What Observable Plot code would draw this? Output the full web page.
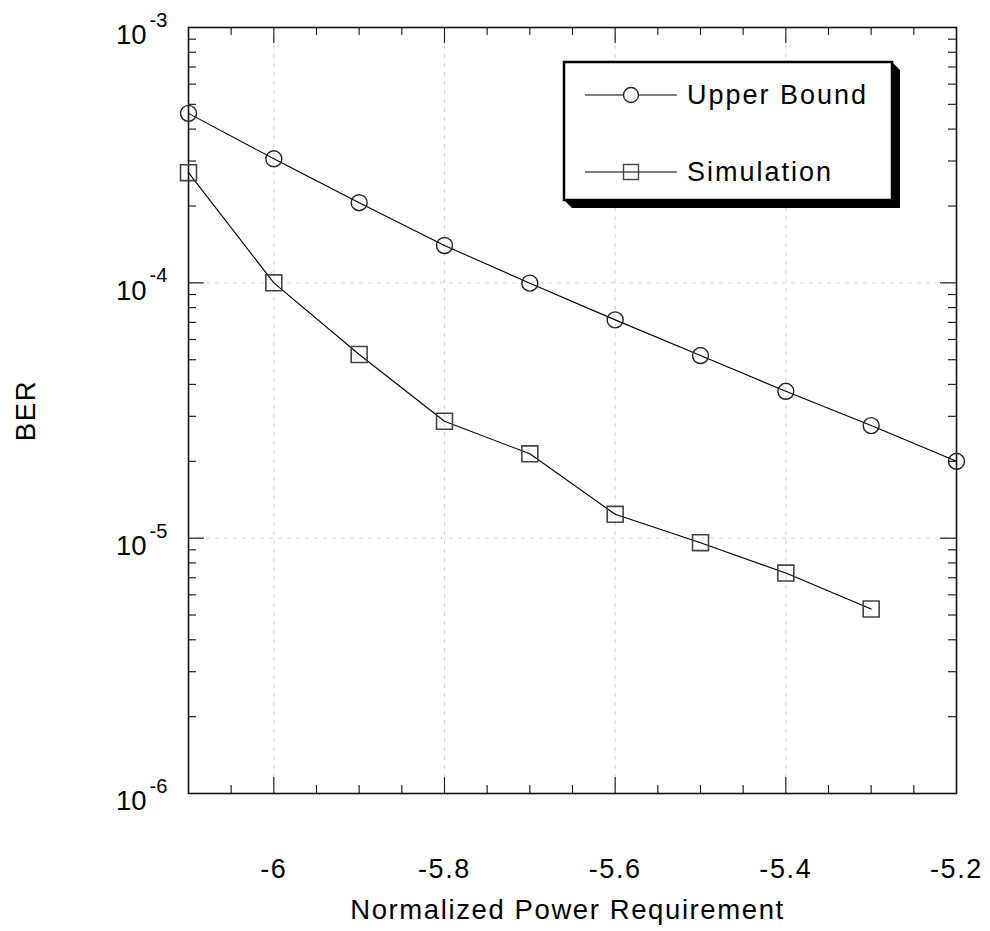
<!DOCTYPE html>
<html>
<head>
<meta charset="utf-8">
<script src="https://cdn.jsdelivr.net/npm/d3@7"></script>
<script src="https://cdn.jsdelivr.net/npm/@observablehq/plot@0.6"></script>
<style>
  html, body { margin: 0; padding: 0; background: #fff; }
  #wrap { position: relative; width: 990px; height: 931px; font-family: "Liberation Sans", Arial, sans-serif; }
  #legend { position: absolute; left: 0; top: 0; pointer-events: none; }
</style>
</head>
<body>
<div id="wrap"></div>
<script>
// ---- data ----
const xValues = [-6.1, -6.0, -5.9, -5.8, -5.7, -5.6, -5.5, -5.4, -5.3, -5.2];
const upperBound = [4.61e-4, 3.06e-4, 2.06e-4, 1.40e-4, 9.97e-5, 7.16e-5, 5.19e-5, 3.76e-5, 2.76e-5, 2.0e-5];
const simX = [-6.1, -6.0, -5.9, -5.8, -5.7, -5.6, -5.5, -5.4, -5.3];
const simulation = [2.70e-4, 1.0e-4, 5.24e-5, 2.87e-5, 2.14e-5, 1.24e-5, 9.6e-6, 7.3e-6, 5.28e-6];
const seriesNames = ["Upper Bound", "Simulation"];
const xTickLabels = [-6, -5.8, -5.6, -5.4, -5.2];
const xMinorTicks = [-6.05, -5.95, -5.9, -5.85, -5.75, -5.7, -5.65, -5.55, -5.5, -5.45, -5.35, -5.3, -5.25];
const xMajorTicks = [-6, -5.8, -5.6, -5.4];
const yDecades = [1e-6, 1e-5, 1e-4, 1e-3];
const yExponents = ["-6", "-5", "-4", "-3"];
const yMajorTicks = [1e-5, 1e-4];
const yMinorTicks = [];
for (const d of [1e-6, 1e-5, 1e-4]) for (const m of [2,3,4,5,6,7,8,9]) yMinorTicks.push(m * d);
const xTitle = "Normalized Power Requirement";
const yTitle = "BER";

const ub = xValues.map((x, i) => ({x, y: upperBound[i]}));
const sim = simX.map((x, i) => ({x, y: simulation[i]}));

const W = 990, H = 931, ML = 188, MR = 34, MT = 27, MB = 138;
const FW = W - ML - MR, FH = H - MT - MB;
const font = "Liberation Sans, Arial, sans-serif";
const majLen = 16, minLen = 8;
const gridStyle = {stroke: "#d4d4d4", strokeWidth: 1, strokeDasharray: "4,5"};
const tickStyle = {stroke: "#222", strokeWidth: 1.2};

const chart = Plot.plot({
  width: W, height: H,
  marginLeft: ML, marginRight: MR, marginTop: MT, marginBottom: MB,
  style: {fontFamily: font, background: "#fff"},
  x: {domain: [-6.1, -5.2], axis: null},
  y: {type: "log", domain: [1e-6, 1e-3], axis: null},
  marks: [
    // grid
    Plot.ruleX(xMajorTicks, {x: d => d, ...gridStyle}),
    Plot.ruleY(yMajorTicks, {y: d => d, ...gridStyle}),
    // x ticks bottom/top
    Plot.tickX(xMinorTicks, {x: d => d, insetTop: FH - minLen, ...tickStyle}),
    Plot.tickX(xMajorTicks, {x: d => d, insetTop: FH - majLen, ...tickStyle}),
    Plot.tickX(xMinorTicks, {x: d => d, insetBottom: FH - minLen, ...tickStyle}),
    Plot.tickX(xMajorTicks, {x: d => d, insetBottom: FH - majLen, ...tickStyle}),
    // y ticks left/right
    Plot.tickY(yMinorTicks, {y: d => d, insetRight: FW - minLen, ...tickStyle}),
    Plot.tickY(yMajorTicks, {y: d => d, insetRight: FW - majLen, ...tickStyle}),
    Plot.tickY(yMinorTicks, {y: d => d, insetLeft: FW - minLen, ...tickStyle}),
    Plot.tickY(yMajorTicks, {y: d => d, insetLeft: FW - majLen, ...tickStyle}),
    // frame
    Plot.frame({stroke: "#111", strokeWidth: 1.6}),
    // series
    Plot.line(ub, {x: "x", y: "y", stroke: "#000", strokeWidth: 1.1}),
    Plot.line(sim, {x: "x", y: "y", stroke: "#000", strokeWidth: 1.1}),
    Plot.dot(ub, {x: "x", y: "y", r: 8, symbol: "circle", fill: "none", stroke: "#222", strokeWidth: 1.4}),
    Plot.dot(sim, {x: "x", y: "y", r: 9, symbol: "square", fill: "none", stroke: "#444", strokeWidth: 1.6}),
    // x tick labels
    Plot.text(xTickLabels, {x: d => d, frameAnchor: "bottom", dy: 76, text: d => String(d),
      fontSize: 27, fill: "#000", lineAnchor: "middle", textAnchor: "middle", className: "ls"}),
    // y tick labels: base and exponent
    Plot.text(yDecades, {y: d => d, frameAnchor: "left", dx: -42, dy: 8, text: () => "10",
      fontSize: 27.5, fill: "#000", textAnchor: "end", lineAnchor: "middle"}),
    Plot.text(yDecades, {y: d => d, frameAnchor: "left", dx: -39, dy: -7, text: (d, i) => yExponents[i],
      fontSize: 20, fill: "#000", textAnchor: "start", lineAnchor: "middle"}),
    // axis titles
    Plot.text([xTitle], {frameAnchor: "bottom", dx: -5, dy: 117, text: d => d, fontSize: 27.5, fill: "#000",
      lineAnchor: "middle", textAnchor: "middle", className: "ls"}),
    Plot.text([yTitle], {frameAnchor: "left", dx: -162, text: d => d, rotate: -90, fontSize: 27.5, fill: "#000",
      lineAnchor: "middle", textAnchor: "middle", className: "ls"})
  ]
});
chart.querySelectorAll("g.ls text, .ls text").forEach(t => t.setAttribute("letter-spacing", "1.6"));
document.getElementById("wrap").appendChild(chart);

// ---- legend (overlay inside the plot frame) ----
const lg = d3.select("#wrap").append("svg").attr("id", "legend").attr("width", W).attr("height", H);
const bx = 564, by = 62, bw = 328, bh = 138, sh = 8;
lg.append("polygon")
  .attr("points", [[bx + bw, by], [bx + bw + sh, by + sh], [bx + bw + sh, by + bh + sh], [bx + sh, by + bh + sh], [bx, by + bh], [bx + bw, by + bh]].map(p => p.join(",")).join(" "))
  .attr("fill", "#000");
lg.append("rect").attr("x", bx).attr("y", by).attr("width", bw).attr("height", bh)
  .attr("fill", "#fff").attr("stroke", "#000").attr("stroke-width", 2.5);
const rows = [95, 172];
seriesNames.forEach((name, i) => {
  const y = rows[i];
  lg.append("line").attr("x1", 585).attr("x2", 677).attr("y1", y).attr("y2", y).attr("stroke", "#000").attr("stroke-width", 1.1);
  if (i === 0) {
    lg.append("circle").attr("cx", 631).attr("cy", y).attr("r", 7.5).attr("fill", "#fff").attr("stroke", "#222").attr("stroke-width", 1.3);
  } else {
    lg.append("rect").attr("x", 623.5).attr("y", y - 7.5).attr("width", 15).attr("height", 15).attr("fill", "none").attr("stroke", "#444").attr("stroke-width", 1.4);
  }
  lg.append("text").attr("x", 687).attr("y", y).attr("dy", "0.35em")
    .attr("font-family", font).attr("font-size", 27).attr("letter-spacing", 2).attr("fill", "#000").text(name);
});
</script>
</body>
</html>
